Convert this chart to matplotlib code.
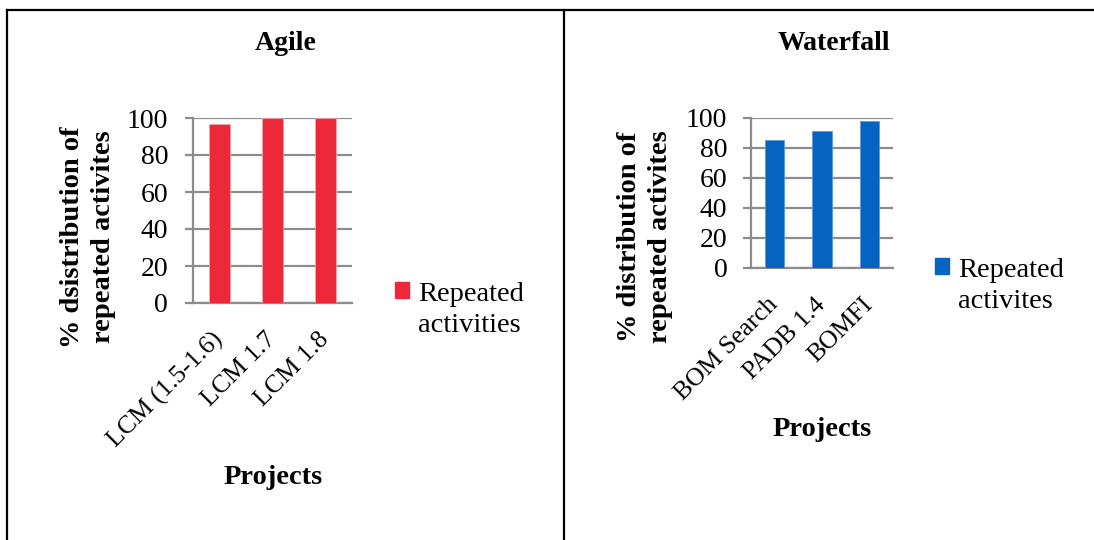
import matplotlib
matplotlib.use("Agg")
import matplotlib.pyplot as plt
from matplotlib.lines import Line2D
from matplotlib.patches import Patch

plt.rcParams["font.family"] = ["Liberation Serif", "DejaVu Serif"]

# -------------------------------
# Data
# -------------------------------

agile_projects = ["LCM (1.5-1.6)", "LCM 1.7", "LCM 1.8"]
agile_values = [97, 100, 100]

waterfall_projects = ["BOM Search", "PADB 1.4", "BOMFI"]
waterfall_values = [85, 91, 98]

y_ticks = [0, 20, 40, 60, 80, 100]

red = "#EC2839"
blue = "#0563C1"
grid_grey = "#8C8C8C"

W, H = 1094, 540
fig = plt.figure(figsize=(W / 100, H / 100), dpi=100)


def px(x0, y0, x1, y1):
    # pixel box (top-left origin) -> figure fraction rect
    return [x0 / W, 1 - y1 / H, (x1 - x0) / W, (y1 - y0) / H]


def draw_panel(rect, names, values, color, edge, pad):
    ax = fig.add_axes(rect)
    pos = list(range(len(names)))
    ax.bar(pos, values, width=0.41, color=color, edgecolor=edge,
           linewidth=0.6, zorder=3)
    ax.set_xlim(-0.5, len(names) - 0.5)
    ax.set_ylim(0, 100)
    ax.set_yticks(y_ticks)
    ax.yaxis.grid(True, color=grid_grey, linewidth=1.6, zorder=0)
    ax.set_axisbelow(True)
    for side in ["top", "right"]:
        ax.spines[side].set_visible(False)
    for side in ["left", "bottom"]:
        ax.spines[side].set_color(grid_grey)
        ax.spines[side].set_linewidth(1.6)
    ax.tick_params(axis="y", length=6, width=1.6, color=grid_grey,
                   labelsize=20, pad=pad)
    ax.set_xticks(pos)
    ax.set_xticklabels(names, rotation=45, ha="right", va="center",
                       rotation_mode="anchor", fontsize=18.5)
    ax.tick_params(axis="x", length=0, pad=24)
    return ax


def add_legend(color, label, x, y):
    leg = fig.legend(handles=[Patch(color=color)], labels=[label],
                     loc="upper left", bbox_to_anchor=(x / W, 1 - y / H),
                     frameon=False, fontsize=20.5, handlelength=0.5,
                     handleheight=0.5, handletextpad=0.3,
                     borderaxespad=0, borderpad=0)
    for t in leg.get_texts():
        t.set_linespacing(1.3)
    # square next to the first line, as in the original
    for col in leg._legend_handle_box.get_children():
        for row in col.get_children():
            row.align = "top"
    return leg


ax1 = draw_panel(px(193, 118, 352, 303), agile_projects, agile_values,
                 red, "#F4A3AB", 12)
ax2 = draw_panel(px(751, 118, 893, 268), waterfall_projects, waterfall_values,
                 blue, "#5B9BDB", 11)

# titles, axis labels
fig.text(286 / W, 1 - 44 / H, "Agile", ha="center", va="center",
         fontsize=20, fontweight="bold")
fig.text(834 / W, 1 - 44 / H, "Waterfall", ha="center", va="center",
         fontsize=20, fontweight="bold")

fig.text(88 / W, 1 - 237 / H, "% dsistribution of\nrepeated activites",
         rotation=90, ha="center", va="center", multialignment="center",
         fontsize=20.5, fontweight="bold", linespacing=1.3)
fig.text(645 / W, 1 - 237 / H, "% distribution of\nrepeated activites",
         rotation=90, ha="center", va="center", multialignment="center",
         fontsize=20.5, fontweight="bold", linespacing=1.3)

fig.text(273 / W, 1 - 478 / H, "Projects", ha="center", va="center",
         fontsize=20.5, fontweight="bold")
fig.text(822 / W, 1 - 430 / H, "Projects", ha="center", va="center",
         fontsize=20.5, fontweight="bold")

# legends
add_legend(red, "Repeated\nactivities", 395, 282)
add_legend(blue, "Repeated\nactivites", 935, 258)

# table borders around the two panels
fig.add_artist(Line2D([7 / W, 1], [1 - 10 / H, 1 - 10 / H], color="black",
                      linewidth=1.6))
fig.add_artist(Line2D([7 / W, 7 / W], [0, 1 - 10 / H], color="black",
                      linewidth=1.6))
fig.add_artist(Line2D([564 / W, 564 / W], [0, 1 - 10 / H], color="black",
                      linewidth=1.6))

fig.savefig("out.png", dpi=100)
